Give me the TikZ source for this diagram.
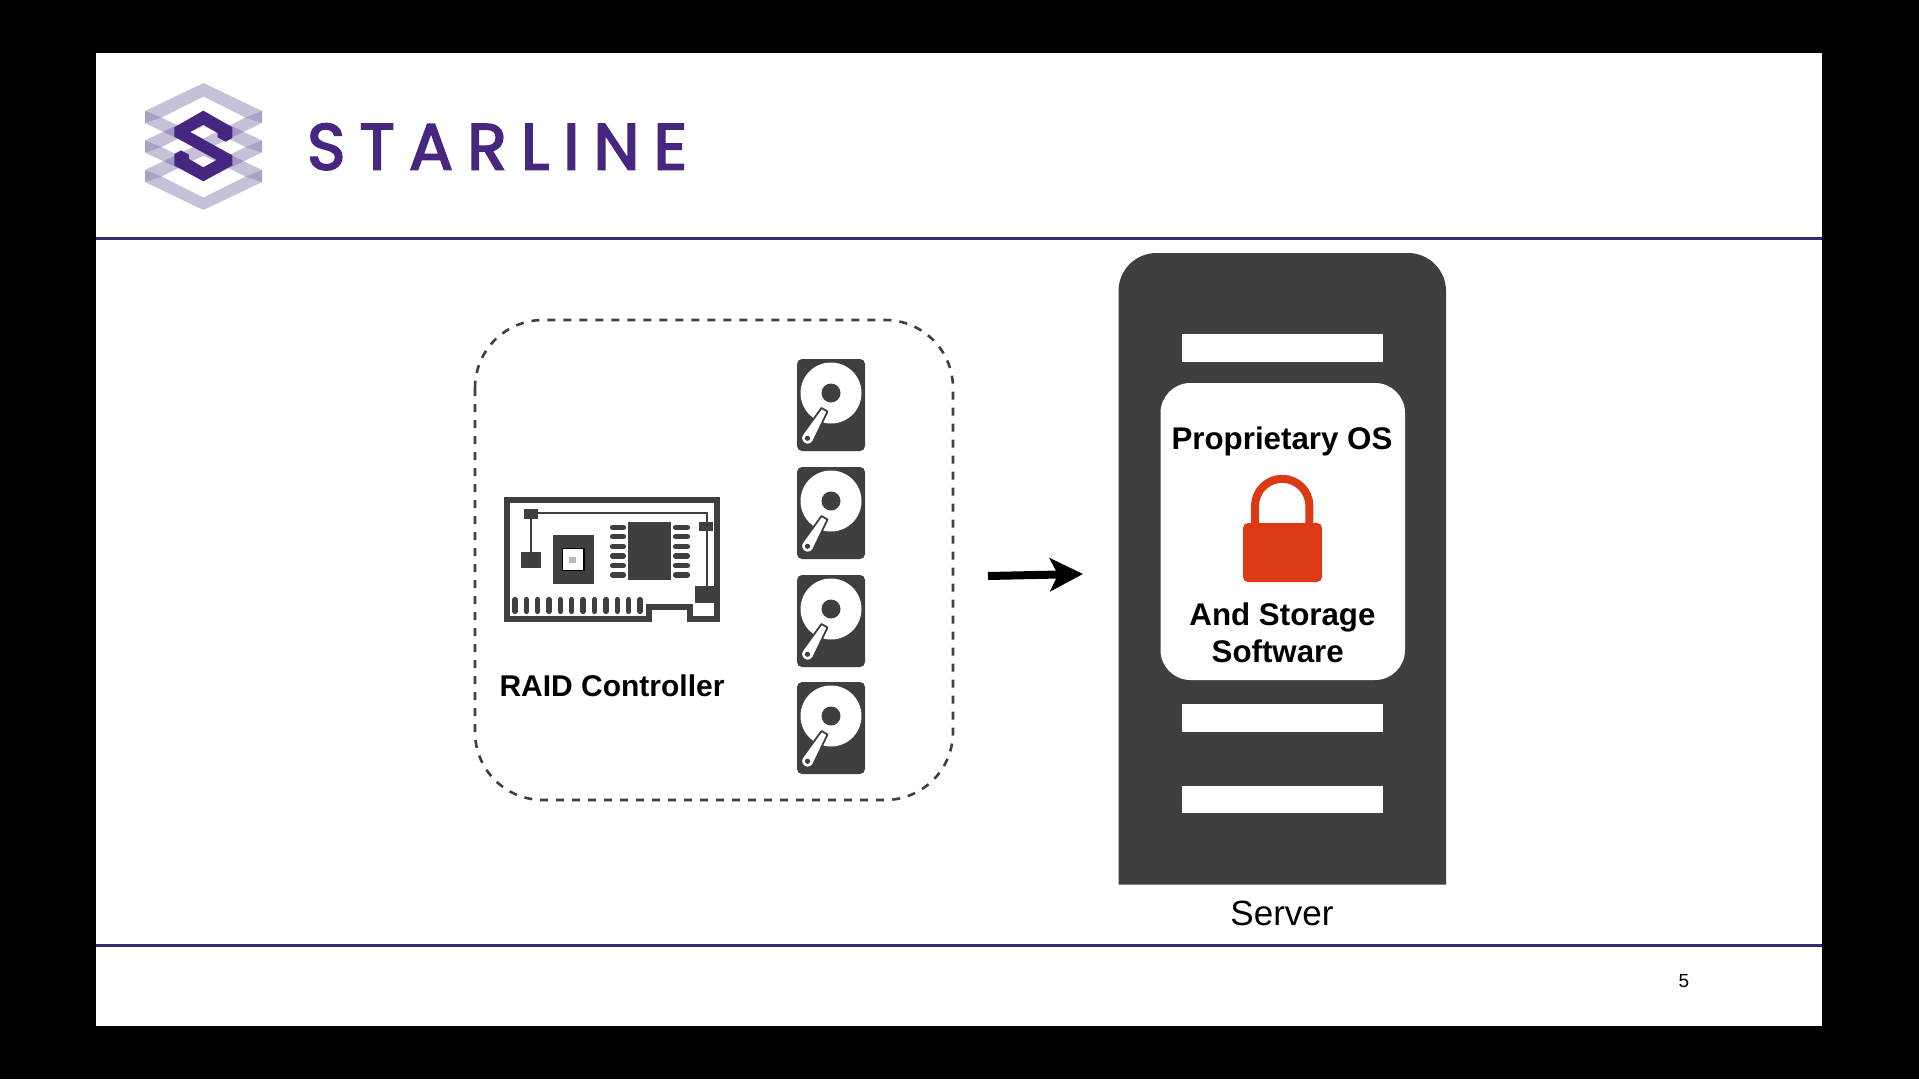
\documentclass[tikz,border=0pt]{standalone}
\usepackage{fontspec}
\setmainfont{Liberation Sans}
\newfontfamily\logofont[LetterSpace=22,FakeBold=3]{Poppins}
\usetikzlibrary{arrows.meta}
\definecolor{slideink}{HTML}{3F3F3F}
\definecolor{rulepurple}{HTML}{3A2768}
\definecolor{logopurple}{HTML}{46267F}
\definecolor{layerpurple}{HTML}{6A5A9A}
\definecolor{lockred}{HTML}{DC3A17}
\tikzset{
  x=1pt,y=-1pt,
  txt/.style={inner sep=0pt,anchor=base,text=black},
  inkfill/.style={fill=slideink,draw=none},
  rulerline/.style={draw=rulepurple,line width=3pt},
  pinline/.style={draw=slideink,line width=5.2pt,line cap=round},
  traceline/.style={draw=slideink,line width=2.4pt},
  barfill/.style={fill=white,draw=none},
}
\newcommand{\diskicon}[1]{%
  \begin{scope}[yshift=-#1pt]
    \fill[inkfill,rounded corners=5pt] (797,359) rectangle (865,451);
    \fill[white] (831,393) circle[radius=30.5];
    \fill[inkfill] (831,393) circle[radius=9.5];
    \draw[slideink,line width=1.8pt,fill=white,line join=round]
      (821.5,408) -- (827.5,411.5) -- (813.3,441.3) arc[start angle=30,end angle=210,radius=6.5] -- cycle;
    \fill[inkfill] (807.5,438.3) circle[radius=2.6];
  \end{scope}}
\begin{document}
\begin{tikzpicture}
\useasboundingbox (0,0) rectangle (1919,1079);
\fill[black] (0,0) rectangle (1919,1079);
\fill[white] (96,53) rectangle (1822,1026);
% rules
\draw[rulerline] (96,238.5) -- (1822,238.5);
\draw[rulerline] (96,945) -- (1822,945);
% logo layers
\begin{scope}[shift={(203.5,146.5)}]
  \foreach \dy in {0,29.5,59}{
    \begin{scope}[yshift=-\dy pt]
      \fill[layerpurple,fill opacity=.38,even odd rule]
        (0,-63.5) -- (58.5,-35.5) -- (58.5,-23.5) -- (0,4.5) -- (-58.5,-23.5) -- (-58.5,-35.5) -- cycle
        (0,-50) -- (42,-29) -- (0,-8) -- (-42,-29) -- cycle;
      \fill[layerpurple,fill opacity=.3] (-58.5,-35.5) -- (-42,-29) -- (-58.5,-23.5) -- cycle;
      \fill[layerpurple,fill opacity=.3] (58.5,-35.5) -- (42,-29) -- (58.5,-23.5) -- cycle;
    \end{scope}}
\end{scope}
% logo S
\begin{scope}[shift={(135,78)},x=0.3333pt,y=-0.3333pt]
  \fill[logopurple] (205,98) -- (292,148) -- (292,180) -- (272,191) -- (248,178) -- (248,165)
    -- (205,140) -- (165,162) -- (292,232) -- (292,262) -- (205,310) -- (118,262) -- (118,228)
    -- (138,217) -- (162,230) -- (162,243) -- (205,268) -- (245,246) -- (118,176) -- (118,148) -- cycle;
\end{scope}
\node[txt,anchor=base west,text=logopurple] (brand) at (307,169.5) {\fontsize{65}{65}\logofont STARLINE};
% dashed group
\draw[draw=slideink,line width=2.6pt,dash pattern=on 8pt off 8pt,rounded corners=68pt]
  (475,320) rectangle (953,800);
% RAID card
\draw[slideink,line width=6.4pt,fill=white,line join=miter]
  (507,500) -- (717,500) -- (717,619) -- (690,619) -- (690,607) -- (649,607) -- (649,619) -- (507,619) -- cycle;
\fill[inkfill] (695,586) rectangle (720,603);
\draw[traceline] (531,514) -- (531,555);
\draw[traceline] (531,513) -- (707,513) -- (707,590);
\fill[inkfill] (523.7,509) rectangle (537.5,519);
\fill[inkfill] (520.7,551.7) rectangle (540.7,568);
\fill[inkfill] (699.3,521.7) rectangle (712.7,531);
\fill[inkfill] (552.7,535) rectangle (594.3,584);
\draw[black,line width=1.2pt,fill=white] (562.3,548.3) rectangle (584,570.7);
\fill[gray!55] (568.5,556.5) rectangle (575.5,563);
\fill[inkfill] (628.3,522.3) rectangle (671,580);
\foreach \ly in {527.3,536.7,546.7,556,565.7,575}{
  \draw[pinline] (612.5,\ly) -- (623.5,\ly);
  \draw[pinline] (675.5,\ly) -- (687.5,\ly);
}
\foreach \lx in {515,526.3,537.6,549,560.3,571.7,583,594.7,606,617.3,628.7,640}{
  \draw[pinline] (\lx,599.5) -- (\lx,611.5);
}
\node[txt] (raid) at (612,696) {\fontsize{30}{30}\selectfont\bfseries RAID Controller};
% disks
\diskicon{0}
\diskicon{108}
\diskicon{216}
\diskicon{323}
% arrow
\coordinate (arrowfrom) at (988,576);
\coordinate (arrowto) at (1083,574);
\draw[black,line width=8pt,-{Stealth[length=33pt,width=33pt,inset=8pt]}] (arrowfrom) -- (arrowto);
% server
\fill[inkfill,rounded corners=38pt] (1118.5,600) -- (1118.5,253) -- (1446,253) -- (1446,600)
  [sharp corners] -- (1446,884.5) -- (1118.5,884.5) -- cycle;
\fill[barfill] (1182,334) rectangle (1383,362);
\fill[barfill] (1182,704) rectangle (1383,732);
\fill[barfill] (1182,786) rectangle (1383,813);
\fill[white,rounded corners=30pt] (1160.5,383) rectangle (1405,680);
\node[txt] (os) at (1282,449) {\fontsize{31.3}{31}\selectfont\bfseries Proprietary OS};
% lock
\draw[lockred,line width=8pt] (1255,526) -- (1255,506) arc[start angle=180,end angle=360,radius=27.2] -- (1309.4,526);
\fill[lockred,rounded corners=5pt] (1243,523) rectangle (1322,582);
\node[txt] (store) at (1282.5,625.5) {\fontsize{31.3}{31}\selectfont\bfseries And Storage};
\node[txt] (soft) at (1277.7,662) {\fontsize{31.3}{31}\selectfont\bfseries Software};
\node[txt] (srv) at (1282,925) {\fontsize{35}{35}\selectfont Server};
\node[txt] (pg) at (1684,987) {\fontsize{19}{19}\selectfont 5};
\end{tikzpicture}
\end{document}
